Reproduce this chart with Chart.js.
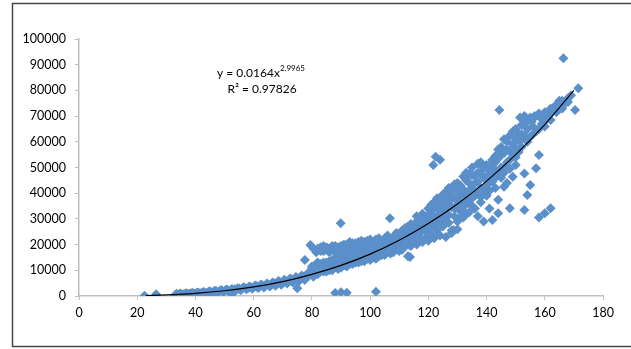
<!DOCTYPE html>
<html>
<head>
<meta charset="utf-8">
<script src="https://cdn.jsdelivr.net/npm/chart.js@4"></script>
<style>
html, body { margin: 0; padding: 0; background: #fff; }
</style>
</head>
<body>
<canvas id="chart" width="631" height="349"></canvas>
<script>
// axis ticks
const xTicks = [0, 20, 40, 60, 80, 100, 120, 140, 160, 180];
const yTicks = [0, 10000, 20000, 30000, 40000, 50000, 60000, 70000, 80000, 90000, 100000];

// low part of the cloud (x < 80)
const lowX = [22.5,26.5,33,33.5,34,35,35.5,36,37,37.5,38,39,39.5,40,41,41.5,42,43,43.5,44,45,45.5,46,47,47.5,48,49,49.5,50,51,51.5,52,52.5,53.5,54,55,55.5,56,57,57.5,58,59,59.5,60,61,61.5,62,63,63.5,64,65,65.5,66,67,67.5,68,69,69.5,70,71,71.5,72,73,73.5,74,75,75.5,76,77,77.5,78,79];
const lowY = [100,700,300,900,500,1000,400,700,1100,600,900,1300,700,1000,1400,800,1200,1600,900,1300,1800,1100,1500,2000,1300,1700,2200,1500,1900,2400,1600,2100,600,2600,2300,2900,2200,2700,3200,2600,3000,3500,2800,3300,3900,3100,3600,4200,3300,3900,4600,3700,4300,5000,4000,4700,5400,4400,5100,5900,4900,5600,6400,5300,6000,6900,5700,6500,7500,6200,7000,8000];
const lowX2 = [33.5,34.5,36.5,38.5,40.5,42.5,44.5,46.5,48.5,50.5,52.5,54.5,56.5,58.5,60.5,62.5,64.5,66.5,68.5,70.5,72.5,74.5,76.5,78.5,79.5];
const lowY2 = [700,800,1000,1100,1300,1500,1700,1900,2100,2400,2700,3000,3400,3700,4100,4500,4900,5300,5800,6300,6800,7400,8000,8800,9200];

// middle part (80 - 113)
const midX = [80,80.5,81,82,82,83,83,84,84,85,85,86,86,87,87,88,88,89,89,90,90,91,91,92,92,93,93,94,94,95,95,96,96,97,97,98,98,99,99,100,100,101,101,102,102,103,103,104,104,105,105,106,106,107,107,108,108,109,109,110,110,111,111,112,112,113,113];
const midY = [9000,7500,10500,8500,12000,11000,17500,9500,13000,18000,11500,17000,10000,12500,18000,12000,17500,10500,19000,13000,17500,15000,20000,11500,18000,14000,19500,16000,12500,18500,20500,14500,17000,19500,13500,16000,21000,18000,14500,20000,16500,15000,21000,18500,17000,20500,15500,19000,21500,17500,20000,22000,18500,16500,20500,21500,18000,23000,20000,17500,22000,24000,19500,21000,25000,15500,22500];
const midX2 = [80,80,81,81,82,82,82,83,83,83,84,84,84,85,85,85,86,86,86,87,87,87,88,88,88,89,89,89,90,90,90,91,91,91,92,92,92,93,93,93,94,94,94,95,95,95,96,96,96,97,97,97,98,98,98,99,99,99,100,100,100,101,101,101,102,102,102,103,103,103,104,104,104,105,105,105,106,106,106,107,107,107,108,108,108,109,109,109,110,110,110,111,111,111,112,112,112,113,113,113];
const midY2 = [10500,11500,9000,12000,10000,13000,18500,9500,12500,19000,11000,17500,19500,9500,13000,19000,11500,13500,18500,10000,14000,19500,13500,19500,15000,12000,14500,17500,11000,15500,19500,12000,17000,13500,13500,16000,20000,12500,16500,21000,14000,18000,20500,13000,15500,17000,13000,19000,21000,15000,17500,21500,13500,18500,19500,16000,19500,21500,14000,18000,22000,16500,19000,17500,14500,20000,22000,17000,18500,22500,16000,17500,20000,16000,19000,22500,17000,20000,23500,18000,22000,19000,17000,19500,23000,18500,21500,24500,19000,20500,24000,18000,21500,25500,19500,23000,26500,20000,24000,27000];

// upper part (x > 113)
const highX = [114,114,115,115,116,116,117,117,118,118,119,119,120,120,121,121,122,122,123,123,124,124,125,125,126,126,127,127,128,128,129,129,130,130,130,131,131,132,132,133,133,134,134,135,135,136,136,137,137,138,138,139,139,140,140,141,141,142,142,143,143,144,144,145,145,146,146,147,147,148,148,149,149,150,150,151,152,152,153,153,154,154,155,155,156,157,157,158,158,159,160,160,161,162,162,163,164,165,167,168,169];
const highY = [23000,26000,21500,27000,24500,29000,23000,27500,25500,30000,22500,28000,26000,31500,24000,29500,27500,34000,25500,31000,29000,35500,27000,33000,30500,37000,28500,39500,25500,34500,31000,38000,29000,41000,35500,33000,43000,30500,38500,45000,36000,32500,41000,47000,35000,39000,44000,31000,48000,36500,42000,29000,46000,39000,50000,34000,44500,29600,48000,42000,52000,37500,32200,46000,55000,42500,50000,57000,44000,53000,34100,59000,46400,61000,51000,56000,63000,58000,47700,33500,65000,39300,43200,62000,66000,49700,64000,54900,30500,67000,68000,32200,70000,34100,71000,73000,74500,76000,75000,77000,78000];
const highX2 = [114,114,114,115,115,116,116,116,117,117,118,118,118,119,119,120,120,120,121,121,121,122,122,122,123,123,123,124,124,124,125,125,125,126,126,126,127,127,127,128,128,128,129,129,129,130,130,130,131,131,131,132,132,132,133,133,133,134,134,134,135,135,135,136,136,137,137,137,138,138,138,139,139,139,140,140,140,141,141,141,142,142,142,143,143,143,144,144,144,145,145,146,146,146,147,147,148,148,148,149,149,150,150,150,151,151,152,152,153,153,154,154,156,156,158,158,160,160,162,162,164,166,166,168];
const highY2 = [19500,24500,28000,24000,25500,20000,27000,31000,25000,29500,21000,28000,32000,25500,30500,21500,28500,34000,27000,32000,35500,22500,30500,36500,28000,34000,38000,23500,32000,37500,30000,35500,39500,23000,33500,40500,31500,36000,42000,24500,38000,41000,34000,41500,43500,26000,38500,44000,30500,36500,40000,34500,41500,46500,32000,39000,48000,36500,44000,47500,38000,42000,50000,34000,47000,40000,44500,51500,38500,47500,52000,41000,49500,50000,43000,46500,51000,41000,49000,51000,44500,51500,53000,46000,49000,54500,47500,53500,57000,50000,58000,48000,55500,61000,52000,60000,56500,62500,49500,55000,64000,57500,65000,54000,60500,63000,61000,66500,62500,67500,60000,68000,63000,69000,65000,71000,66000,71500,68500,73000,71500,73000,76000,75500];

// scattered single points
const outX = [75,77.6,79.5,80.5,81.5,89.9,106.8,88,90,92,102,113.7,122.5,121.7,124,144.4,151.5,153,155,156.5,158.4,155.5,166.4,171.5,170.4,128.6];
const outY = [3000,14000,19800,18500,17000,28300,30300,1200,1500,1300,1700,15200,54200,51000,53000,72400,69500,70000,69500,70000,69500,67800,92500,80800,72400,25700];

// power trendline
const trendX = [23,30,40,50,60,70,80,90,100,110,120,130,140,150,160,170];
const trendY = [200,440,1050,2050,3540,5600,8400,11900,16300,21700,28200,35800,44700,55000,66700,80000];

function pairs(xs, ys) {
    return xs.map((x, i) => ({ x: x, y: ys[i] }));
}

const cloud = pairs(lowX, lowY)
    .concat(pairs(lowX2, lowY2))
    .concat(pairs(midX, midY))
    .concat(pairs(midX2, midY2))
    .concat(pairs(highX, highY))
    .concat(pairs(highX2, highY2))
    .concat(pairs(outX, outY));

const frame = {
    id: 'frame',
    afterDraw(c) {
        const ctx = c.ctx;
        ctx.save();
        ctx.strokeStyle = '#444';
        ctx.lineWidth = 1.5;
        ctx.strokeRect(12.5, 3.5, 640, 343);
        // trendline label
        ctx.fillStyle = '#000';
        ctx.textBaseline = 'alphabetic';
        ctx.font = '12px Lato';
        const main = 'y = 0.0164x';
        const sup = '2.9965';
        const w1 = ctx.measureText(main).width;
        ctx.font = '8px Lato';
        const w2 = ctx.measureText(sup).width;
        let left = 261 - (w1 + w2) / 2;
        ctx.font = '12px Lato';
        ctx.fillText(main, left, 77);
        ctx.font = '8px Lato';
        ctx.fillText(sup, left + w1, 71);
        ctx.font = '12px Lato';
        ctx.textAlign = 'center';
        ctx.fillText('R\u00B2 = 0.97826', 262, 93);
        ctx.restore();
    }
};

const ctx = document.getElementById('chart').getContext('2d');
const chart = new Chart(ctx, {
    type: 'scatter',
    data: {
        datasets: [
            {
                label: 'Trend',
                type: 'line',
                data: pairs(trendX, trendY),
                borderColor: '#000',
                borderWidth: 1.2,
                pointRadius: 0,
                fill: false,
                cubicInterpolationMode: 'monotone'
            },
            {
                label: 'Data',
                data: cloud,
                pointStyle: 'rectRot',
                pointRadius: 5,
                backgroundColor: '#5b8fca',
                borderColor: '#5b8fca',
                borderWidth: 0
            }
        ]
    },
    options: {
        responsive: false,
        animation: false,
        devicePixelRatio: 1,
        layout: { padding: { top: 39, right: 28, left: 0, bottom: 0 } },
        plugins: {
            legend: { display: false },
            tooltip: { enabled: false }
        },
        scales: {
            x: {
                type: 'linear',
                min: xTicks[0],
                max: xTicks[xTicks.length - 1],
                afterBuildTicks: s => { s.ticks = xTicks.map(v => ({ value: v })); },
                afterFit: s => { s.height = 53; },
                grid: { drawOnChartArea: false, color: '#bfbfbf', tickLength: 4 },
                border: { color: '#bfbfbf', width: 1.5 },
                ticks: { color: '#000', padding: 5, maxRotation: 0, font: { family: 'Lato', size: 12.5 }, callback: v => String(v) }
            },
            y: {
                type: 'linear',
                min: yTicks[0],
                max: yTicks[yTicks.length - 1],
                afterBuildTicks: s => { s.ticks = yTicks.map(v => ({ value: v })); },
                afterFit: s => { s.width = 79; },
                grid: { drawOnChartArea: false, color: '#bfbfbf', tickLength: 4 },
                border: { color: '#bfbfbf', width: 1.5 },
                ticks: { color: '#000', padding: 9, font: { family: 'Lato', size: 12.5 }, callback: v => String(v) }
            }
        }
    },
    plugins: [frame]
});
</script>
</body>
</html>
